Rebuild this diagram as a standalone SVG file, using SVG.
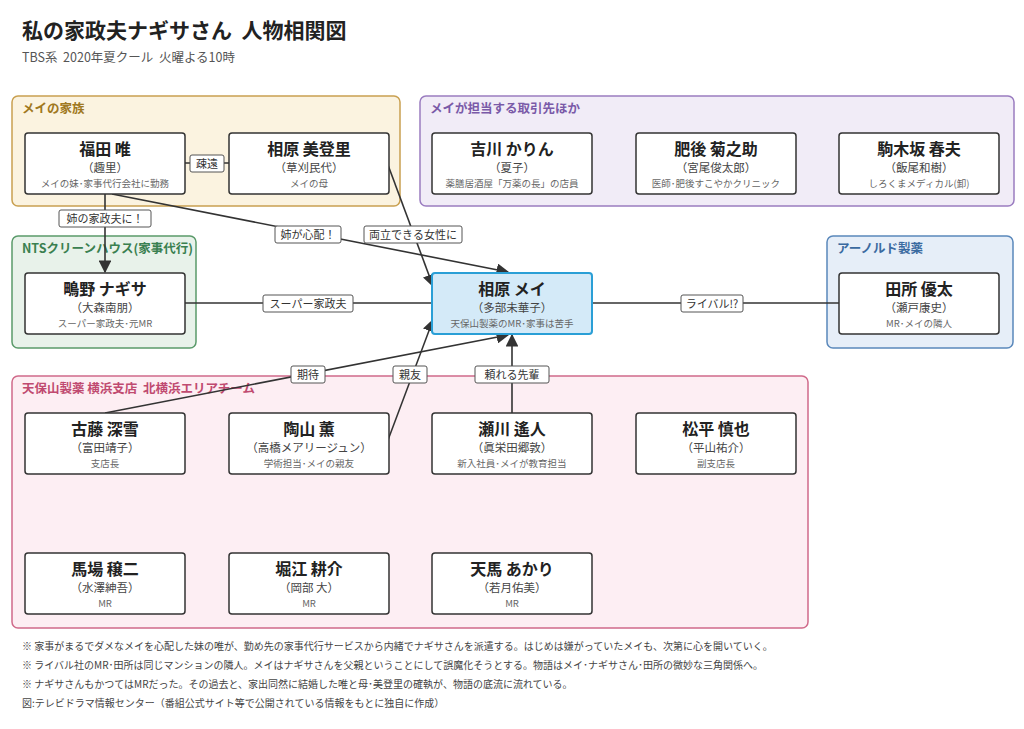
<svg xmlns="http://www.w3.org/2000/svg" width="1024" height="729" viewBox="0 0 1024 729">
<style>
text{font-family:"Noto Sans CJK JP","Noto Sans",sans-serif}
.g{stroke-width:1.5}
.gl{font-size:12.5px;font-weight:bold}
.n rect{fill:#fff;stroke:#333;stroke-width:1.5}
.nm{font-size:16px;font-weight:bold;fill:#222;text-anchor:middle}
.ac{font-size:11.5px;fill:#444;text-anchor:middle}
.ds{font-size:9.5px;fill:#666;text-anchor:middle}
.c line{stroke:#333;stroke-width:1.6}
.lb rect{fill:#fff;stroke:#555;stroke-width:1}
.lb text{font-size:11px;fill:#333;text-anchor:middle}
.note{font-size:10px;fill:#444}
</style>
<defs><marker id="a" viewBox="0 0 10 10" refX="9" refY="5" markerWidth="8" markerHeight="8" orient="auto"><path d="M0,0L10,5L0,10z" fill="#333"/></marker></defs>
<rect width="1024" height="729" fill="#fff"/>
<text x="22" y="38" font-size="21" font-weight="bold" fill="#222" xml:space="preserve">私の家政夫ナギサさん  人物相関図</text>
<text x="22" y="62" font-size="12.5" fill="#555" xml:space="preserve">TBS系  2020年夏クール  火曜よる10時</text>

<g id="groups">
<rect class="g" x="12" y="96" width="388" height="110" rx="6" fill="#fbf3e0" stroke="#c9a050"/>
<text class="gl" x="22" y="113" fill="#a07820">メイの家族</text>
<rect class="g" x="420" y="96" width="594" height="110" rx="6" fill="#f1ecf7" stroke="#9a7cc0"/>
<text class="gl" x="430" y="113" fill="#7a5aa8">メイが担当する取引先ほか</text>
<rect class="g" x="12" y="236" width="184" height="112" rx="6" fill="#e8f2ea" stroke="#5a9a6a"/>
<text class="gl" x="22" y="253" fill="#3a8050">NTSクリーンハウス(家事代行)</text>
<rect class="g" x="827" y="236" width="186" height="112" rx="6" fill="#e6eef8" stroke="#5a88bb"/>
<text class="gl" x="837" y="253" fill="#3a6aa0">アーノルド製薬</text>
<rect class="g" x="12" y="376" width="796" height="252" rx="6" fill="#fdeef3" stroke="#d06a8a"/>
<text class="gl" x="22" y="393" fill="#c04a70" xml:space="preserve">天保山製薬 横浜支店  北横浜エリアチーム</text>
</g>

<g id="connectors" class="c">
<line x1="185" y1="163" x2="229" y2="163"/>
<line x1="105" y1="194" x2="105" y2="272" marker-end="url(#a)"/>
<line x1="112" y1="194" x2="508" y2="272" marker-end="url(#a)"/>
<line x1="388" y1="165" x2="433" y2="286" marker-end="url(#a)"/>
<line x1="185" y1="303" x2="432" y2="303"/>
<line x1="592" y1="303" x2="839" y2="303"/>
<line x1="105" y1="413" x2="508" y2="335" marker-end="url(#a)"/>
<line x1="388" y1="440" x2="433" y2="320" marker-end="url(#a)"/>
<line x1="512" y1="413" x2="512" y2="335" marker-end="url(#a)"/>
<g class="lb">
<rect x="190" y="155" width="34" height="17" rx="2"/><text x="207" y="167.5">疎遠</text>
<rect x="59" y="210" width="92" height="17" rx="2"/><text x="105" y="222.5">姉の家政夫に！</text>
<rect x="275" y="226" width="66" height="17" rx="2"/><text x="308" y="238.5">姉が心配！</text>
<rect x="364" y="226" width="98" height="17" rx="2"/><text x="413" y="238.5">両立できる女性に</text>
<rect x="263" y="295" width="90" height="17" rx="2"/><text x="308" y="307.5">スーパー家政夫</text>
<rect x="681" y="295" width="62" height="17" rx="2"/><text x="712" y="307.5">ライバル!?</text>
<rect x="291" y="366" width="34" height="17" rx="2"/><text x="308" y="378.5">期待</text>
<rect x="393" y="366" width="34" height="17" rx="2"/><text x="410" y="378.5">親友</text>
<rect x="475" y="366" width="74" height="17" rx="2"/><text x="512" y="378.5">頼れる先輩</text>
</g>
</g>

<g id="n-fukuda" class="n"><rect x="25" y="133" width="160" height="61" rx="3"/><text class="nm" x="105" y="155">福田 唯</text><text class="ac" x="105" y="172">（趣里）</text><text class="ds" x="105" y="187">メイの妹･家事代行会社に勤務</text></g>
<g id="n-midori" class="n"><rect x="229" y="133" width="160" height="61" rx="3"/><text class="nm" x="309" y="155">相原 美登里</text><text class="ac" x="309" y="172">（草刈民代）</text><text class="ds" x="309" y="187">メイの母</text></g>
<g id="n-yoshikawa" class="n"><rect x="432" y="133" width="160" height="61" rx="3"/><text class="nm" x="512" y="155">吉川 かりん</text><text class="ac" x="512" y="172">（夏子）</text><text class="ds" x="512" y="187">薬膳居酒屋「万薬の長」の店員</text></g>
<g id="n-higo" class="n"><rect x="636" y="133" width="160" height="61" rx="3"/><text class="nm" x="716" y="155">肥後 菊之助</text><text class="ac" x="716" y="172">（宮尾俊太郎）</text><text class="ds" x="716" y="187">医師･肥後すこやかクリニック</text></g>
<g id="n-komakizaka" class="n"><rect x="839" y="133" width="160" height="61" rx="3"/><text class="nm" x="919" y="155">駒木坂 春夫</text><text class="ac" x="919" y="172">（飯尾和樹）</text><text class="ds" x="919" y="187">しろくまメディカル(卸)</text></g>
<g id="n-nagisa" class="n"><rect x="25" y="273" width="160" height="61" rx="3"/><text class="nm" x="105" y="295">鴫野 ナギサ</text><text class="ac" x="105" y="312">（大森南朋）</text><text class="ds" x="105" y="327">スーパー家政夫･元MR</text></g>
<g id="n-mei" class="n"><rect x="432" y="273" width="160" height="61" rx="3" style="fill:#d4eaf8;stroke:#2a9fd6;stroke-width:2"/><text class="nm" x="512" y="295">相原 メイ</text><text class="ac" x="512" y="312">（多部未華子）</text><text class="ds" x="512" y="327">天保山製薬のMR･家事は苦手</text></g>
<g id="n-tadokoro" class="n"><rect x="839" y="273" width="160" height="61" rx="3"/><text class="nm" x="919" y="295">田所 優太</text><text class="ac" x="919" y="312">（瀬戸康史）</text><text class="ds" x="919" y="327">MR･メイの隣人</text></g>
<g id="n-furufuji" class="n"><rect x="25" y="413" width="160" height="61" rx="3"/><text class="nm" x="105" y="435">古藤 深雪</text><text class="ac" x="105" y="452">（富田靖子）</text><text class="ds" x="105" y="467">支店長</text></g>
<g id="n-suyama" class="n"><rect x="229" y="413" width="160" height="61" rx="3"/><text class="nm" x="309" y="435">陶山 薫</text><text class="ac" x="309" y="452">（高橋メアリージュン）</text><text class="ds" x="309" y="467">学術担当･メイの親友</text></g>
<g id="n-segawa" class="n"><rect x="432" y="413" width="160" height="61" rx="3"/><text class="nm" x="512" y="435">瀬川 遙人</text><text class="ac" x="512" y="452">（眞栄田郷敦）</text><text class="ds" x="512" y="467">新入社員･メイが教育担当</text></g>
<g id="n-matsudaira" class="n"><rect x="636" y="413" width="160" height="61" rx="3"/><text class="nm" x="716" y="435">松平 慎也</text><text class="ac" x="716" y="452">（平山祐介）</text><text class="ds" x="716" y="467">副支店長</text></g>
<g id="n-baba" class="n"><rect x="25" y="553" width="160" height="61" rx="3"/><text class="nm" x="105" y="575">馬場 穣二</text><text class="ac" x="105" y="592">（水澤紳吾）</text><text class="ds" x="105" y="607">MR</text></g>
<g id="n-horie" class="n"><rect x="229" y="553" width="160" height="61" rx="3"/><text class="nm" x="309" y="575">堀江 耕介</text><text class="ac" x="309" y="592">（岡部 大）</text><text class="ds" x="309" y="607">MR</text></g>
<g id="n-tenma" class="n"><rect x="432" y="553" width="160" height="61" rx="3"/><text class="nm" x="512" y="575">天馬 あかり</text><text class="ac" x="512" y="592">（若月佑美）</text><text class="ds" x="512" y="607">MR</text></g>

<text class="note" x="22" y="650">※ 家事がまるでダメなメイを心配した妹の唯が、勤め先の家事代行サービスから内緒でナギサさんを派遣する。はじめは嫌がっていたメイも、次第に心を開いていく。</text>
<text class="note" x="22" y="669">※ ライバル社のMR･田所は同じマンションの隣人。メイはナギサさんを父親ということにして誤魔化そうとする。物語はメイ･ナギサさん･田所の微妙な三角関係へ。</text>
<text class="note" x="22" y="688">※ ナギサさんもかつてはMRだった。その過去と、家出同然に結婚した唯と母･美登里の確執が、物語の底流に流れている。</text>
<text class="note" x="22" y="707">図:テレビドラマ情報センター（番組公式サイト等で公開されている情報をもとに独自に作成）</text>
</svg>
